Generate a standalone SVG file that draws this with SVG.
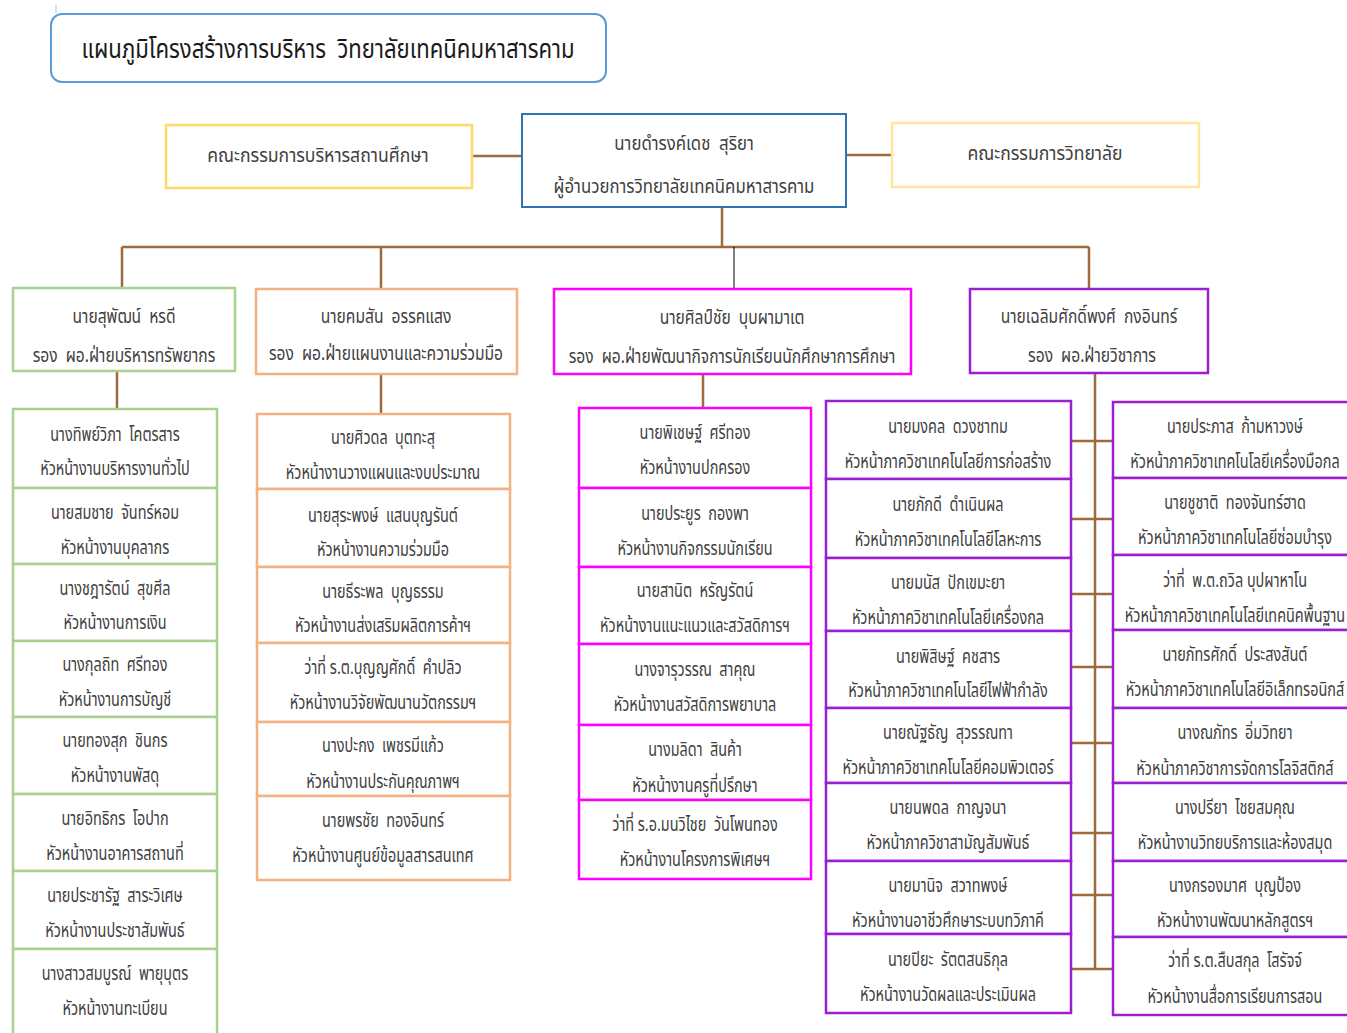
<svg xmlns="http://www.w3.org/2000/svg" width="1347" height="1033" viewBox="0 0 1347 1033">
<style>
text{white-space:pre}
.t{font-family:"Noto Sans Thai","Noto Sans","DejaVu Sans",sans-serif;font-size:19px;fill:#404040;text-anchor:middle}
.tt{font-family:"Noto Sans Thai","Noto Sans","DejaVu Sans",sans-serif;font-size:27px;fill:#1a1a1a;text-anchor:middle}
.tm{font-family:"Noto Sans Thai","Noto Sans","DejaVu Sans",sans-serif;font-size:20px;fill:#404040;text-anchor:middle}
rect{fill:#fff}
.bl{stroke:#2E75B6;stroke-width:2}
.ye{stroke:#FFD966;stroke-width:2.5}
.ye2{stroke:#FFE699;stroke-width:2.5}
.gr{stroke:#A9D18E;stroke-width:2.5}
.or{stroke:#F4B183;stroke-width:2.5}
.pk{stroke:#FF00FF;stroke-width:2.5}
.pu{stroke:#9B1FCF;stroke-width:2.5}
.c{stroke:#9C6A3C;stroke-width:2.5;fill:none}
</style>
<line x1="56" y1="5" x2="56" y2="13" stroke="#9DC3E6" stroke-width="1"/>
<g id="title"><rect x="51" y="14" width="555" height="68" rx="11" stroke="#5B9BD5" stroke-width="2"/>
<text class="tt" transform="matrix(0.82,0,0,1,328,58)">แผนภูมิโครงสร้างการบริหาร  วิทยาลัยเทคนิคมหาสารคาม</text></g>

<g id="connectors">
<path class="c" d="M472,156H522M846,155H892M722,207V247M122,247H1089M122,247V288M381,247V289M1089,247V289M117,371V409M381,374V414M703,374V408M1095,373V969"/>
<path class="c" d="M1071,441H1113M1071,519H1113M1071,594H1113M1071,667H1113M1071,743H1113M1071,833H1113M1071,895H1113M1071,969H1113"/>
<path d="M734,247V289" stroke="#000" stroke-width="1"/>
</g>

<g id="board"><rect class="ye" x="166" y="125" width="306" height="63"/>
<text class="tm" transform="matrix(0.88,0,0,1,318,162)">คณะกรรมการบริหารสถานศึกษา</text></g>
<g id="director"><rect class="bl" x="522" y="114" width="324" height="93"/>
<text class="tm" transform="matrix(0.84,0,0,1,684,150)">นายดำรงค์เดช  สุริยา</text>
<text class="tm" transform="matrix(0.84,0,0,1,684,193)">ผู้อำนวยการวิทยาลัยเทคนิคมหาสารคาม</text></g>
<g id="college"><rect class="ye2" x="892" y="123" width="307" height="64"/>
<text class="tm" transform="matrix(0.88,0,0,1,1045,160)">คณะกรรมการวิทยาลัย</text></g>

<g id="dep1"><rect class="gr" x="13" y="288" width="222" height="83"/>
<text class="tm" transform="matrix(0.78,0,0,1,124,323)">นายสุพัฒน์  หรดี</text>
<text class="tm" transform="matrix(0.78,0,0,1,124,362)">รอง  ผอ.ฝ่ายบริหารทรัพยากร</text></g>
<g id="dep2"><rect class="or" x="256" y="289" width="261" height="85"/>
<text class="tm" transform="matrix(0.78,0,0,1,386,323)">นายคมสัน  อรรคแสง</text>
<text class="tm" transform="matrix(0.78,0,0,1,386,360)">รอง  ผอ.ฝ่ายแผนงานและความร่วมมือ</text></g>
<g id="dep3"><rect class="pk" x="554" y="289" width="357" height="85"/>
<text class="tm" transform="matrix(0.78,0,0,1,732,324)">นายศิลป์ชัย  บุบผามาเต</text>
<text class="tm" transform="matrix(0.78,0,0,1,732,363)">รอง  ผอ.ฝ่ายพัฒนากิจการนักเรียนนักศึกษาการศึกษา</text></g>
<g id="dep4"><rect class="pu" x="970" y="289" width="238" height="84"/>
<text class="tm" transform="matrix(0.78,0,0,1,1089,323)">นายเฉลิมศักดิ์พงศ์  กงอินทร์</text>
<text class="tm" transform="matrix(0.78,0,0,1,1092,362)">รอง  ผอ.ฝ่ายวิชาการ</text></g>

<g id="g1"><rect class="gr" x="13" y="409" width="204" height="79"/>
<text class="t" transform="matrix(0.76,0,0,1,115,441)">นางทิพย์วิภา  โคตรสาร</text>
<text class="t" transform="matrix(0.76,0,0,1,115,475)">หัวหน้างานบริหารงานทั่วไป</text></g>
<g id="g2"><rect class="gr" x="13" y="488" width="204" height="76"/>
<text class="t" transform="matrix(0.76,0,0,1,115,519)">นายสมชาย  จันทร์หอม</text>
<text class="t" transform="matrix(0.76,0,0,1,115,554)">หัวหน้างานบุคลากร</text></g>
<g id="g3"><rect class="gr" x="13" y="564" width="204" height="77"/>
<text class="t" transform="matrix(0.76,0,0,1,115,595)">นางชฎารัตน์  สุขศีล</text>
<text class="t" transform="matrix(0.76,0,0,1,115,629)">หัวหน้างานการเงิน</text></g>
<g id="g4"><rect class="gr" x="13" y="641" width="204" height="76"/>
<text class="t" transform="matrix(0.76,0,0,1,115,671)">นางกุลถิท  ศรีทอง</text>
<text class="t" transform="matrix(0.76,0,0,1,115,706)">หัวหน้างานการบัญชี</text></g>
<g id="g5"><rect class="gr" x="13" y="717" width="204" height="77"/>
<text class="t" transform="matrix(0.76,0,0,1,115,747)">นายทองสุก  ชินกร</text>
<text class="t" transform="matrix(0.76,0,0,1,115,782)">หัวหน้างานพัสดุ</text></g>
<g id="g6"><rect class="gr" x="13" y="794" width="204" height="77"/>
<text class="t" transform="matrix(0.76,0,0,1,115,825)">นายอิทธิกร  โอปาก</text>
<text class="t" transform="matrix(0.76,0,0,1,115,860)">หัวหน้างานอาคารสถานที่</text></g>
<g id="g7"><rect class="gr" x="13" y="871" width="204" height="78"/>
<text class="t" transform="matrix(0.76,0,0,1,115,902)">นายประชารัฐ  สาระวิเศษ</text>
<text class="t" transform="matrix(0.76,0,0,1,115,937)">หัวหน้างานประชาสัมพันธ์</text></g>
<g id="g8"><rect class="gr" x="13" y="949" width="204" height="96"/>
<text class="t" transform="matrix(0.76,0,0,1,115,980)">นางสาวสมบูรณ์  พายุบุตร</text>
<text class="t" transform="matrix(0.76,0,0,1,115,1015)">หัวหน้างานทะเบียน</text></g>

<g id="o1"><rect class="or" x="257" y="414" width="253" height="75"/>
<text class="t" transform="matrix(0.76,0,0,1,383,444)">นายศิวดล  บุตทะสุ</text>
<text class="t" transform="matrix(0.76,0,0,1,383,479)">หัวหน้างานวางแผนและงบประมาณ</text></g>
<g id="o2"><rect class="or" x="257" y="489" width="253" height="78"/>
<text class="t" transform="matrix(0.76,0,0,1,383,522)">นายสุระพงษ์  แสนบุญรันต์</text>
<text class="t" transform="matrix(0.76,0,0,1,383,556)">หัวหน้างานความร่วมมือ</text></g>
<g id="o3"><rect class="or" x="257" y="567" width="253" height="76"/>
<text class="t" transform="matrix(0.76,0,0,1,383,598)">นายธีระพล  บุญธรรม</text>
<text class="t" transform="matrix(0.76,0,0,1,383,632)">หัวหน้างานส่งเสริมผลิตการค้าฯ</text></g>
<g id="o4"><rect class="or" x="257" y="643" width="253" height="79"/>
<text class="t" transform="matrix(0.76,0,0,1,383,674)">ว่าที่ ร.ต.บุญญศักดิ์  คำปลิว</text>
<text class="t" transform="matrix(0.76,0,0,1,383,709)">หัวหน้างานวิจัยพัฒนานวัตกรรมฯ</text></g>
<g id="o5"><rect class="or" x="257" y="722" width="253" height="74"/>
<text class="t" transform="matrix(0.76,0,0,1,383,752)">นางปะกง  เพชรมีแก้ว</text>
<text class="t" transform="matrix(0.76,0,0,1,383,788)">หัวหน้างานประกันคุณภาพฯ</text></g>
<g id="o6"><rect class="or" x="257" y="796" width="253" height="84"/>
<text class="t" transform="matrix(0.76,0,0,1,383,827)">นายพรชัย  ทองอินทร์</text>
<text class="t" transform="matrix(0.76,0,0,1,383,862)">หัวหน้างานศูนย์ข้อมูลสารสนเทศ</text></g>

<g id="p1"><rect class="pk" x="579" y="408" width="232" height="80"/>
<text class="t" transform="matrix(0.76,0,0,1,695,439)">นายพิเชษฐ์  ศรีทอง</text>
<text class="t" transform="matrix(0.76,0,0,1,695,474)">หัวหน้างานปกครอง</text></g>
<g id="p2"><rect class="pk" x="579" y="488" width="232" height="79"/>
<text class="t" transform="matrix(0.76,0,0,1,695,520)">นายประยูร  กองพา</text>
<text class="t" transform="matrix(0.76,0,0,1,695,555)">หัวหน้างานกิจกรรมนักเรียน</text></g>
<g id="p3"><rect class="pk" x="579" y="567" width="232" height="77"/>
<text class="t" transform="matrix(0.76,0,0,1,695,597)">นายสานิต  หรัญรัตน์</text>
<text class="t" transform="matrix(0.76,0,0,1,695,632)">หัวหน้างานแนะแนวและสวัสดิการฯ</text></g>
<g id="p4"><rect class="pk" x="579" y="644" width="232" height="81"/>
<text class="t" transform="matrix(0.76,0,0,1,695,676)">นางจารุวรรณ  สาคุณ</text>
<text class="t" transform="matrix(0.76,0,0,1,695,711)">หัวหน้างานสวัสดิการพยาบาล</text></g>
<g id="p5"><rect class="pk" x="579" y="725" width="232" height="75"/>
<text class="t" transform="matrix(0.76,0,0,1,695,756)">นางมลิดา  สินค้า</text>
<text class="t" transform="matrix(0.76,0,0,1,695,792)">หัวหน้างานครูที่ปรึกษา</text></g>
<g id="p6"><rect class="pk" x="579" y="800" width="232" height="79"/>
<text class="t" transform="matrix(0.76,0,0,1,695,831)">ว่าที่ ร.อ.มนวิไชย  วันโพนทอง</text>
<text class="t" transform="matrix(0.76,0,0,1,695,866)">หัวหน้างานโครงการพิเศษฯ</text></g>

<g id="a1"><rect class="pu" x="826" y="401" width="245" height="78"/>
<text class="t" transform="matrix(0.76,0,0,1,948,433)">นายมงคล  ดวงชาทม</text>
<text class="t" transform="matrix(0.76,0,0,1,948,468)">หัวหน้าภาควิชาเทคโนโลยีการก่อสร้าง</text></g>
<g id="a2"><rect class="pu" x="826" y="479" width="245" height="79"/>
<text class="t" transform="matrix(0.76,0,0,1,948,511)">นายภักดี  ดำเนินผล</text>
<text class="t" transform="matrix(0.76,0,0,1,948,546)">หัวหน้าภาควิชาเทคโนโลยีโลหะการ</text></g>
<g id="a3"><rect class="pu" x="826" y="558" width="245" height="73"/>
<text class="t" transform="matrix(0.76,0,0,1,948,589)">นายมนัส  ปักเขมะยา</text>
<text class="t" transform="matrix(0.76,0,0,1,948,624)">หัวหน้าภาควิชาเทคโนโลยีเครื่องกล</text></g>
<g id="a4"><rect class="pu" x="826" y="631" width="245" height="77"/>
<text class="t" transform="matrix(0.76,0,0,1,948,663)">นายพิสิษฐ์  คชสาร</text>
<text class="t" transform="matrix(0.76,0,0,1,948,697)">หัวหน้าภาควิชาเทคโนโลยีไฟฟ้ากำลัง</text></g>
<g id="a5"><rect class="pu" x="826" y="708" width="245" height="75"/>
<text class="t" transform="matrix(0.76,0,0,1,948,739)">นายณัฐธัญ  สุวรรณทา</text>
<text class="t" transform="matrix(0.76,0,0,1,948,774)">หัวหน้าภาควิชาเทคโนโลยีคอมพิวเตอร์</text></g>
<g id="a6"><rect class="pu" x="826" y="783" width="245" height="78"/>
<text class="t" transform="matrix(0.76,0,0,1,948,814)">นายนพดล  กาญจนา</text>
<text class="t" transform="matrix(0.76,0,0,1,948,849)">หัวหน้าภาควิชาสามัญสัมพันธ์</text></g>
<g id="a7"><rect class="pu" x="826" y="861" width="245" height="73"/>
<text class="t" transform="matrix(0.76,0,0,1,948,892)">นายมานิจ  สวาทพงษ์</text>
<text class="t" transform="matrix(0.76,0,0,1,948,927)">หัวหน้างานอาชีวศึกษาระบบทวิภาคี</text></g>
<g id="a8"><rect class="pu" x="826" y="934" width="245" height="79"/>
<text class="t" transform="matrix(0.76,0,0,1,948,966)">นายปิยะ  รัตตสนธิกุล</text>
<text class="t" transform="matrix(0.76,0,0,1,948,1001)">หัวหน้างานวัดผลและประเมินผล</text></g>

<g id="b1"><rect class="pu" x="1113" y="402" width="250" height="76"/>
<text class="t" transform="matrix(0.76,0,0,1,1235,433)">นายประภาส  ก้ามหาวงษ์</text>
<text class="t" transform="matrix(0.76,0,0,1,1235,468)">หัวหน้าภาควิชาเทคโนโลยีเครื่องมือกล</text></g>
<g id="b2"><rect class="pu" x="1113" y="478" width="250" height="77"/>
<text class="t" transform="matrix(0.76,0,0,1,1235,509)">นายชูชาติ  ทองจันทร์ฮาด</text>
<text class="t" transform="matrix(0.76,0,0,1,1235,544)">หัวหน้าภาควิชาเทคโนโลยีซ่อมบำรุง</text></g>
<g id="b3"><rect class="pu" x="1113" y="555" width="250" height="75"/>
<text class="t" transform="matrix(0.76,0,0,1,1235,587)">ว่าที่  พ.ต.ถวิล บุปผาหาโน</text>
<text class="t" transform="matrix(0.76,0,0,1,1235,622)">หัวหน้าภาควิชาเทคโนโลยีเทคนิคพื้นฐาน</text></g>
<g id="b4"><rect class="pu" x="1113" y="630" width="250" height="78"/>
<text class="t" transform="matrix(0.76,0,0,1,1235,661)">นายภัทรศักดิ์  ประสงสันต์</text>
<text class="t" transform="matrix(0.76,0,0,1,1235,696)">หัวหน้าภาควิชาเทคโนโลยีอิเล็กทรอนิกส์</text></g>
<g id="b5"><rect class="pu" x="1113" y="708" width="250" height="75"/>
<text class="t" transform="matrix(0.76,0,0,1,1235,739)">นางณภัทร  อิ่มวิทยา</text>
<text class="t" transform="matrix(0.76,0,0,1,1235,775)">หัวหน้าภาควิชาการจัดการโลจิสติกส์</text></g>
<g id="b6"><rect class="pu" x="1113" y="783" width="250" height="78"/>
<text class="t" transform="matrix(0.76,0,0,1,1235,814)">นางปรียา  ไชยสมคุณ</text>
<text class="t" transform="matrix(0.76,0,0,1,1235,849)">หัวหน้างานวิทยบริการและห้องสมุด</text></g>
<g id="b7"><rect class="pu" x="1113" y="861" width="250" height="76"/>
<text class="t" transform="matrix(0.76,0,0,1,1235,892)">นางกรองมาศ  บุญป้อง</text>
<text class="t" transform="matrix(0.76,0,0,1,1235,927)">หัวหน้างานพัฒนาหลักสูตรฯ</text></g>
<g id="b8"><rect class="pu" x="1113" y="937" width="250" height="78"/>
<text class="t" transform="matrix(0.76,0,0,1,1235,967)">ว่าที่ ร.ต.สืบสกุล  โสรัจจ์</text>
<text class="t" transform="matrix(0.76,0,0,1,1235,1003)">หัวหน้างานสื่อการเรียนการสอน</text></g>
</svg>
